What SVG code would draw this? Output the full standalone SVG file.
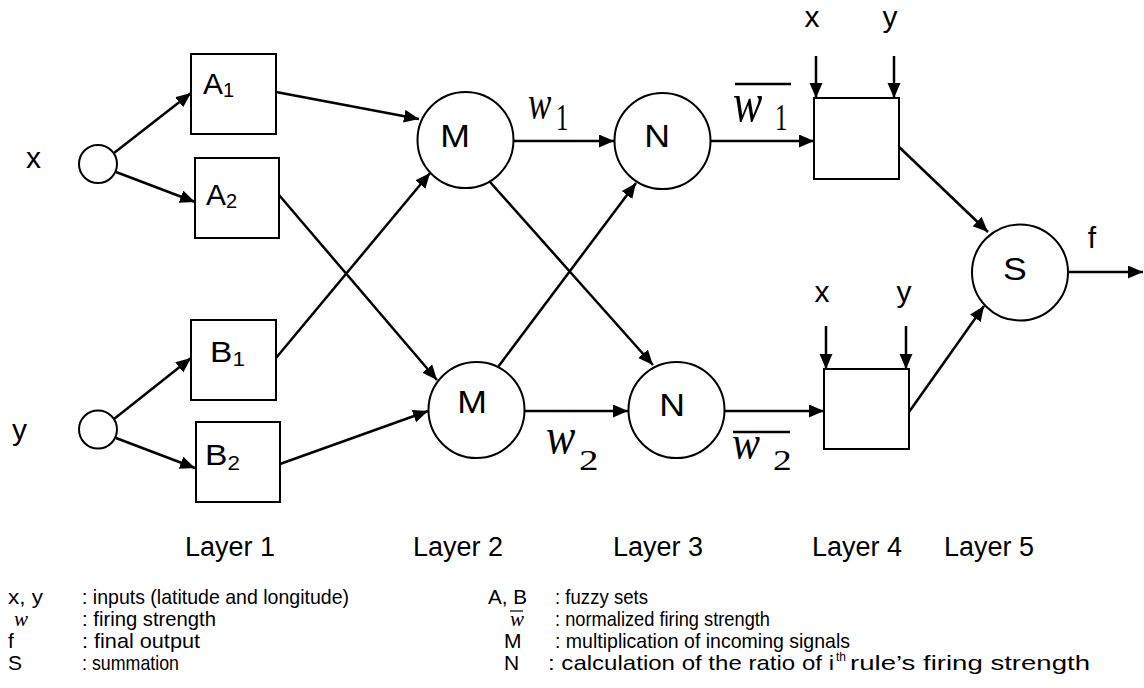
<svg xmlns="http://www.w3.org/2000/svg" width="1144" height="688" viewBox="0 0 1144 688">
<style>
.nd{fill:#fff;stroke:#000;stroke-width:2}
.ln{stroke:#000;stroke-width:2.5;fill:none}
.ar{stroke:#000;stroke-width:2.5;fill:none;marker-end:url(#ah)}
.t{font-family:"Liberation Sans",Arial,sans-serif;fill:#000}
.m{font-family:"Liberation Serif","Times New Roman",serif;fill:#000}
.lbl{font-size:30px}
.nl{font-size:31px}
.sub{font-size:20px}
.lg{font-size:21px}
</style>
<defs>
<marker id="ah" markerUnits="userSpaceOnUse" markerWidth="16" markerHeight="14" refX="15" refY="6.5" orient="auto">
<path d="M0,0 L15,6.5 L0,13 z" fill="#000"/>
</marker>
</defs>
<rect width="1144" height="688" fill="#fff"/>

<g id="connectors">
<line class="ar" x1="114" y1="153" x2="191" y2="93"/>
<line class="ar" x1="116" y1="172" x2="195" y2="202"/>
<line class="ar" x1="114" y1="419" x2="191" y2="358"/>
<line class="ar" x1="116" y1="438" x2="195" y2="468"/>
<line class="ar" x1="276" y1="92" x2="419" y2="119"/>
<line class="ar" x1="279" y1="195" x2="437" y2="380"/>
<line class="ar" x1="276" y1="358" x2="430" y2="173"/>
<line class="ar" x1="280" y1="464" x2="428" y2="411"/>
<line class="ar" x1="514" y1="141" x2="614" y2="141"/>
<line class="ar" x1="490" y1="182" x2="653" y2="365"/>
<line class="ar" x1="498" y1="367" x2="636" y2="183"/>
<line class="ar" x1="525" y1="411" x2="628" y2="411"/>
<line class="ar" x1="711" y1="141" x2="814" y2="141"/>
<line class="ar" x1="724" y1="411" x2="824" y2="411"/>
<line class="ar" x1="816" y1="56" x2="816" y2="98"/>
<line class="ar" x1="894" y1="56" x2="894" y2="98"/>
<line class="ar" x1="826" y1="326" x2="826" y2="369"/>
<line class="ar" x1="906" y1="326" x2="906" y2="369"/>
<line class="ar" x1="897" y1="145" x2="988" y2="232"/>
<line class="ar" x1="909" y1="412" x2="984" y2="306"/>
<line class="ar" x1="1068" y1="272" x2="1143" y2="272"/>
</g>

<g id="in-x"><circle class="nd" cx="98" cy="164" r="19"/><text class="t lbl" x="26" y="168">x</text></g>
<g id="in-y"><circle class="nd" cx="98" cy="429.5" r="19"/><text class="t lbl" x="12" y="440">y</text></g>

<g id="A1"><rect class="nd" x="191" y="54" width="85" height="80"/><text class="t lbl" x="203" y="94">A<tspan class="sub" dy="3">1</tspan></text></g>
<g id="A2"><rect class="nd" x="195" y="158" width="84" height="80"/><text class="t lbl" x="206" y="205">A<tspan class="sub" dy="3">2</tspan></text></g>
<g id="B1"><rect class="nd" x="191" y="320" width="85" height="80"/><text class="t lbl" transform="translate(210,362) scale(1.12,1)">B<tspan class="sub" dy="4">1</tspan></text></g>
<g id="B2"><rect class="nd" x="196" y="422" width="84" height="80"/><text class="t lbl" transform="translate(205,465) scale(1.12,1)">B<tspan class="sub" dy="5">2</tspan></text></g>

<g id="M1"><circle class="nd" cx="465.5" cy="140" r="48"/><text class="t nl" text-anchor="middle" transform="translate(455,147) scale(1.15,1)">M</text></g>
<g id="M2"><circle class="nd" cx="476.5" cy="410" r="48"/><text class="t nl" text-anchor="middle" transform="translate(472,413) scale(1.15,1)">M</text></g>
<g id="N1"><circle class="nd" cx="662.5" cy="141" r="48"/><text class="t nl" text-anchor="middle" transform="translate(657,147) scale(1.15,1)">N</text></g>
<g id="N2"><circle class="nd" cx="676.5" cy="410" r="48"/><text class="t nl" text-anchor="middle" transform="translate(672,416) scale(1.15,1)">N</text></g>

<g id="P1"><rect class="nd" x="814" y="98" width="85" height="81"/></g>
<g id="P2"><rect class="nd" x="824" y="369" width="85" height="80"/></g>
<g id="S"><circle class="nd" cx="1020" cy="272.5" r="48"/><text class="t nl" text-anchor="middle" transform="translate(1015,280) scale(1.15,1)">S</text></g>

<g id="labels">
<text class="t lbl" x="812" y="27" text-anchor="middle">x</text>
<text class="t lbl" x="890" y="27" text-anchor="middle">y</text>
<text class="t lbl" x="822" y="302" text-anchor="middle">x</text>
<text class="t lbl" x="904" y="302" text-anchor="middle">y</text>
<text class="t lbl" x="1092" y="248" text-anchor="middle">f</text>

<text class="m" font-style="italic" font-size="35" transform="translate(528,119) scale(1,1.4)">w</text>
<text class="m" font-size="26" transform="translate(556,130) scale(0.95,1.5)">1</text>

<text class="m" font-style="italic" font-size="44" transform="translate(546,453) scale(1,1.15)">w</text>
<text class="m" font-size="30" transform="translate(579,470) scale(1.3,1)">2</text>

<line class="ln" x1="735" y1="84" x2="791" y2="84"/>
<text class="m" font-style="italic" font-size="44" transform="translate(733,121) scale(1,1.25)">w</text>
<text class="m" font-size="26" transform="translate(775,130) scale(0.95,1.5)">1</text>

<line class="ln" x1="733" y1="432" x2="790" y2="432"/>
<text class="m" font-style="italic" font-size="42" transform="translate(732,459) scale(1,1.15)">w</text>
<text class="m" font-size="30" transform="translate(773,470) scale(1.25,1)">2</text>

<text class="t" font-size="27" x="185" y="556">Layer 1</text>
<text class="t" font-size="27" x="413" y="556">Layer 2</text>
<text class="t" font-size="27" x="613" y="556">Layer 3</text>
<text class="t" font-size="27" x="812" y="556">Layer 4</text>
<text class="t" font-size="27" x="944" y="556">Layer 5</text>
</g>

<g id="legend">
<text class="t lg" x="8" y="604" textLength="35" lengthAdjust="spacingAndGlyphs">x, y</text>
<text class="t lg" x="82" y="604" textLength="267" lengthAdjust="spacingAndGlyphs">: inputs (latitude and longitude)</text>
<text class="m" font-style="italic" font-size="21" x="14" y="626">w</text>
<text class="t lg" x="82" y="626" textLength="134" lengthAdjust="spacingAndGlyphs">: firing strength</text>
<text class="t lg" x="8" y="648">f</text>
<text class="t lg" x="82" y="648" textLength="118" lengthAdjust="spacingAndGlyphs">: final output</text>
<text class="t lg" x="8" y="670">S</text>
<text class="t lg" x="82" y="670" textLength="97" lengthAdjust="spacingAndGlyphs">: summation</text>

<text class="t lg" x="488" y="604" textLength="39" lengthAdjust="spacingAndGlyphs">A, B</text>
<text class="t lg" x="555" y="604" textLength="93" lengthAdjust="spacingAndGlyphs">: fuzzy sets</text>
<line x1="510" y1="611" x2="523" y2="611" stroke="#000" stroke-width="1.2"/>
<text class="m" font-style="italic" font-size="21" x="510" y="626">w</text>
<text class="t lg" x="555" y="626" textLength="215" lengthAdjust="spacingAndGlyphs">: normalized firing strength</text>
<text class="t lg" x="504" y="648">M</text>
<text class="t lg" x="555" y="648" textLength="295" lengthAdjust="spacingAndGlyphs">: multiplication of incoming signals</text>
<text class="t lg" x="504" y="670">N</text>
<text class="t lg" x="548" y="670" textLength="286" lengthAdjust="spacingAndGlyphs">: calculation of the ratio of i</text>
<text class="t" font-size="12" x="836" y="661">th</text>
<text class="t lg" x="850" y="670" textLength="240" lengthAdjust="spacingAndGlyphs"> rule’s firing strength</text>
</g>
</svg>
